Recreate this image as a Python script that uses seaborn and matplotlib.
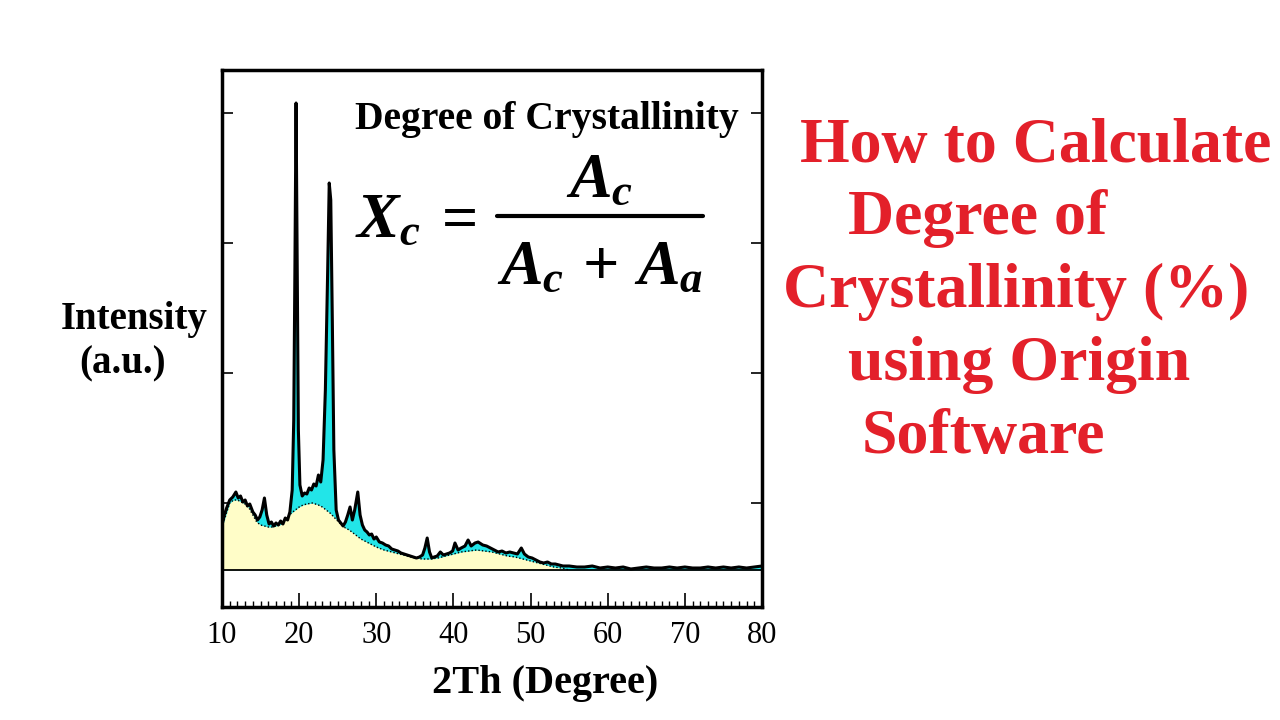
import numpy as np
import pandas as pd
import matplotlib
matplotlib.use("Agg")
import matplotlib.pyplot as plt
from matplotlib.lines import Line2D
import seaborn as sns

# ---- data (intensity in arbitrary units) ----
two_theta = [10.0, 10.3, 10.6, 11.0, 11.4, 11.8, 12.1, 12.4, 12.7, 13.0, 13.3, 13.6, 14.0, 14.3, 14.6,
             14.9, 15.2, 15.5, 15.8, 16.1, 16.4, 16.7, 17.0, 17.3, 17.6, 17.9, 18.2, 18.5, 18.8, 19.1,
             19.3, 19.45, 19.6, 19.75, 19.9, 20.1, 20.4, 20.7, 21.0, 21.3, 21.6, 21.9, 22.2, 22.5, 22.8,
             23.1, 23.4, 23.7, 23.9, 24.1, 24.3, 24.5, 24.8, 25.1, 25.4, 25.7, 26.0, 26.3, 26.6, 26.9,
             27.2, 27.6, 27.9, 28.2, 28.5, 28.8, 29.1, 29.4, 29.7, 30.0, 30.4, 30.8, 31.2, 31.6, 32.0,
             32.4, 32.8, 33.2, 33.6, 34.0, 34.4, 34.8, 35.2, 35.6, 36.0, 36.3, 36.6, 36.9, 37.2, 37.5,
             37.9, 38.3, 38.7, 39.1, 39.5, 39.9, 40.2, 40.6, 41.0, 41.5, 41.9, 42.3, 42.8, 43.2, 43.8,
             44.3, 44.8, 45.3, 45.8, 46.3, 46.8, 47.3, 47.8, 48.3, 48.8, 49.2, 49.7, 50.2, 50.7, 51.2,
             51.7, 52.2, 52.7, 53.2, 53.7, 54.2, 55.0, 56.0, 57.0, 58.0, 59.0, 60.0, 61.0, 62.0, 63.0,
             64.0, 65.0, 66.0, 67.0, 68.0, 69.0, 70.0, 71.0, 72.0, 73.0, 74.0, 75.0, 76.0, 77.0, 78.0,
             79.0, 80.0]
intensity = [45, 55, 62, 70, 73, 78, 72, 74, 68, 70, 64, 66, 58, 55, 50,
             53, 60, 72, 55, 46, 48, 44, 47, 45, 49, 46, 52, 50, 58, 80,
             150, 300, 467, 300, 140, 85, 74, 77, 76, 82, 80, 86, 84, 95, 88,
             110, 180, 300, 387, 370, 250, 120, 60, 50, 47, 44, 48, 55, 63, 50,
             60, 78, 55, 45, 40, 38, 35, 36, 31, 33, 28, 27, 25, 24, 21,
             20, 19, 17, 16, 15, 14, 13, 12, 13, 15, 22, 32, 18, 12, 13,
             14, 18, 15, 16, 17, 19, 27, 20, 22, 24, 30, 24, 27, 28, 25,
             24, 22, 20, 18, 19, 17, 18, 17, 16, 22, 16, 13, 12, 10, 8,
             7, 8, 6, 6, 5, 4, 4, 3, 3, 4, 2, 3, 2, 3, 1,
             2, 3, 2, 2, 3, 2, 3, 2, 2, 3, 2, 3, 2, 3, 2,
             3, 4]

amorph_theta = [10.0, 10.5, 11.0, 11.5, 12.0, 12.5, 13.0, 13.5, 14.0, 14.5, 15.0, 15.5, 16.0, 16.5,
                17.0, 17.5, 18.0, 18.5, 19.0, 19.5, 20.0, 20.5, 21.0, 21.7, 22.5, 23.0, 23.5, 24.0,
                24.5, 25.0, 25.5, 26.0, 26.5, 27.0, 27.5, 28.0, 28.5, 29.0, 30.0, 31.0, 32.0, 33.0,
                34.0, 35.0, 36.0, 37.0, 38.0, 39.0, 40.0, 41.0, 42.0, 43.0, 44.0, 45.0, 46.0, 47.0,
                48.0, 49.0, 50.0, 51.0, 52.0, 53.0, 54.0, 55.0]
amorph = [43, 55, 67, 70, 70, 68, 66, 62, 55, 48, 45, 44, 43, 43,
          44, 45, 48, 53, 57, 60, 63, 65, 66, 67, 65, 63, 60, 57,
          53, 49, 45, 42, 40, 37, 34, 31, 29, 27, 23, 20, 18, 16,
          14, 12, 11, 11, 12, 14, 16, 18, 19, 20, 19, 18, 16, 14,
          13, 11, 9, 7, 5, 3, 2, 0]

x_ticks = [10, 20, 30, 40, 50, 60, 70, 80]
y_ticks = [67, 197, 327, 457]

df = pd.DataFrame({"two_theta": two_theta, "intensity": intensity})
df_a = pd.DataFrame({"two_theta": amorph_theta, "amorph": amorph})

# ---- style ----
sns.set_style("white")
plt.rcParams["font.family"] = ["Liberation Serif", "DejaVu Serif"]
plt.rcParams["text.color"] = "black"
plt.rcParams["xtick.color"] = "black"
plt.rcParams["ytick.color"] = "black"
plt.rcParams["mathtext.fontset"] = "custom"
plt.rcParams["mathtext.rm"] = "Liberation Serif:bold"
plt.rcParams["mathtext.it"] = "Liberation Serif:bold:italic"
plt.rcParams["mathtext.bf"] = "Liberation Serif:bold"

fig = plt.figure(figsize=(12.8, 7.2), dpi=100)
ax = fig.add_axes([222/1280, 1 - 607/720, 540/1280, 537/720])

ax.fill_between(df["two_theta"], 0, df["intensity"], color="#22E5E8", lw=0, zorder=1)
ax.fill_between(df_a["two_theta"], 0, df_a["amorph"], color="#FFFDC8", lw=0, zorder=2)
sns.lineplot(data=df_a, x="two_theta", y="amorph", ax=ax, color="black", lw=1.0,
             linestyle=(0, (1, 1.5)), zorder=3)
sns.lineplot(data=df, x="two_theta", y="intensity", ax=ax, color="black", lw=2.2, zorder=4)
ax.axhline(0, color="black", lw=1.3, zorder=5)

ax.set_xlim(10, 80)
ax.set_ylim(-37, 500)
ax.set_xticks(x_ticks)
ax.set_xticklabels([str(t) for t in x_ticks])
ax.set_xticks(np.arange(10, 81, 1), minor=True)
ax.set_yticks(y_ticks)
ax.set_yticklabels([])
ax.tick_params(axis="x", which="major", direction="in", length=10, width=1.2,
               labelsize=22, pad=10, top=False, bottom=True, labelcolor="black")
ax.tick_params(axis="x", which="minor", direction="in", length=4, width=1.0,
               top=False, bottom=True)
ax.tick_params(axis="y", which="major", direction="in", length=8, width=1.2,
               left=True, right=True)
for s in ax.spines.values():
    s.set_linewidth(2.5)
    s.set_color("black")
ax.set_xlabel("")
ax.set_ylabel("")

# axis labels
fig.text(545/1280, 1 - 684/720, "2Th (Degree)", ha="center", va="center",
         fontsize=29, fontweight="bold", color="black")
fig.text(134/1280, 1 - 320/720, "Intensity", ha="center", va="center",
         fontsize=28, fontweight="bold", color="black")
fig.text(123/1280, 1 - 364/720, "(a.u.)", ha="center", va="center",
         fontsize=28, fontweight="bold", color="black")

# inside annotations
fig.text(547/1280, 1 - 120/720, "Degree of Crystallinity", ha="center", va="center",
         fontsize=28.5, fontweight="bold", color="black")
fs = 46
fig.text(355/1280, 1 - 237/720, r"$X_c$", ha="left", va="baseline", fontsize=fs, color="black")
fig.text(454/1280, 1 - 237/720, r"$=$", ha="center", va="baseline", fontsize=fs, color="black")
fig.text(600/1280, 1 - 197/720, r"$A_c$", ha="center", va="baseline", fontsize=fs, color="black")
fig.text(600/1280, 1 - 284/720, r"$A_c\,+\,A_a$", ha="center", va="baseline", fontsize=fs,
         color="black")
fig.add_artist(Line2D([497/1280, 703/1280], [1 - 216/720, 1 - 216/720],
                      color="black", lw=3, transform=fig.transFigure))

# red title block
red = "#E3202A"
for txt, xl, yc in [("How to Calculate", 800, 147), ("Degree of", 848, 219),
                    ("Crystallinity (%)", 783, 292), ("using Origin", 848, 365),
                    ("Software", 862, 438)]:
    fig.text(xl/1280, 1 - yc/720, txt, ha="left", va="center", fontsize=46,
             fontweight="bold", color=red)

fig.savefig("out.png", dpi=100)
